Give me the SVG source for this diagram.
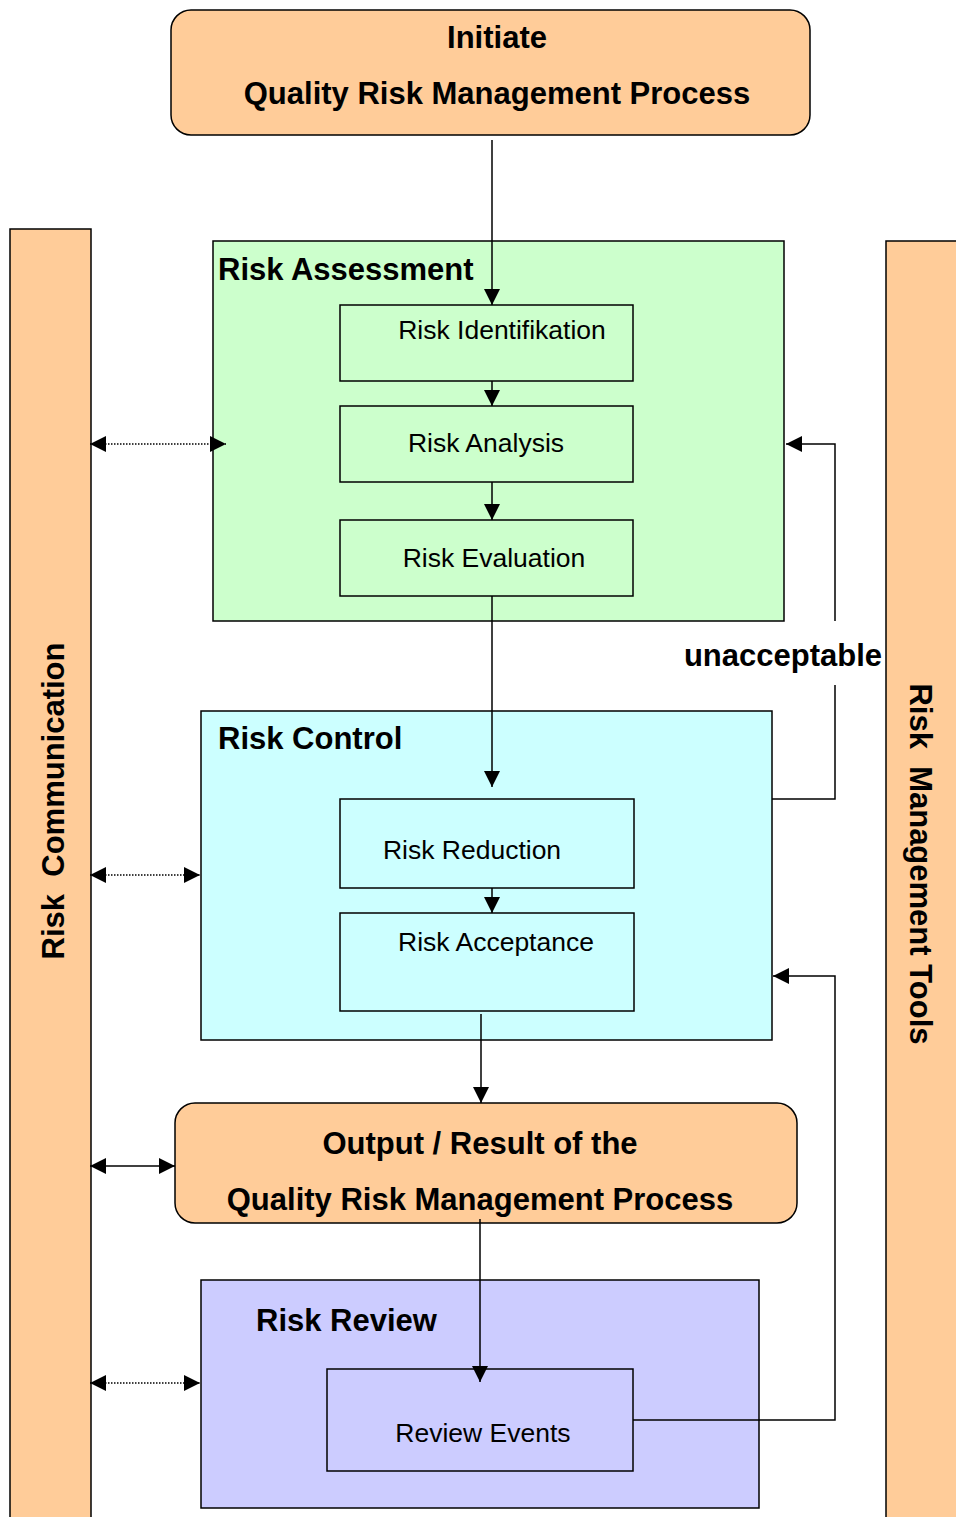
<svg xmlns="http://www.w3.org/2000/svg" width="956" height="1517" viewBox="0 0 956 1517">
  <style>
    .box { stroke: #000; stroke-width: 1.5; }
    .orange { fill: #FFCC99; }
    .green { fill: #CCFFCC; }
    .cyan { fill: #CCFFFF; }
    .purple { fill: #CCCCFF; }
    .b { font-family: "Liberation Sans", Arial, sans-serif; font-weight: bold; font-size: 31px; fill: #000; }
    .n { font-family: "Liberation Sans", Arial, sans-serif; font-size: 26.5px; fill: #000; }
    .mid { text-anchor: middle; }
    .line { fill: none; stroke: #000; stroke-width: 1.5; }
    .dot { fill: none; stroke: #000; stroke-width: 1.5; stroke-dasharray: 1.5,1.5; }
  </style>
  <defs>
    <marker id="ah" viewBox="0 0 16 16" refX="16" refY="8" markerWidth="16" markerHeight="16" orient="auto-start-reverse" markerUnits="userSpaceOnUse">
      <path d="M0,0 L16,8 L0,16 z" fill="#000"/>
    </marker>
  </defs>

  <rect width="956" height="1517" fill="#fff"/>

  <!-- side bars -->
  <g id="risk-communication">
    <rect class="box orange" x="10" y="229" width="81" height="1300"/>
    <text class="b mid" transform="translate(64,801) rotate(-90)" xml:space="preserve">Risk  Communication</text>
  </g>
  <g id="risk-management-tools">
    <rect class="box orange" x="886" y="241" width="80" height="1300"/>
    <text class="b mid" transform="translate(910,864) rotate(90)" xml:space="preserve">Risk  Management Tools</text>
  </g>

  <!-- start -->
  <g id="initiate">
    <rect class="box orange" x="171" y="10" width="639" height="125" rx="20"/>
    <text class="b mid" x="497" y="48">Initiate</text>
    <text class="b mid" x="497" y="104">Quality Risk Management Process</text>
  </g>

  <!-- assessment -->
  <g id="risk-assessment">
    <rect class="box green" x="213" y="241" width="571" height="380"/>
    <text class="b" x="218" y="280">Risk Assessment</text>
  </g>
  <g id="risk-identification">
    <rect class="box green" x="340" y="305" width="293" height="76"/>
    <text class="n mid" x="502" y="339">Risk Identifikation</text>
  </g>
  <g id="risk-analysis">
    <rect class="box green" x="340" y="406" width="293" height="76"/>
    <text class="n mid" x="486" y="452">Risk Analysis</text>
  </g>
  <g id="risk-evaluation">
    <rect class="box green" x="340" y="520" width="293" height="76"/>
    <text class="n mid" x="494" y="567">Risk Evaluation</text>
  </g>

  <!-- control -->
  <g id="risk-control">
    <rect class="box cyan" x="201" y="711" width="571" height="329"/>
    <text class="b" x="218" y="749">Risk Control</text>
  </g>
  <g id="risk-reduction">
    <rect class="box cyan" x="340" y="799" width="294" height="89"/>
    <text class="n mid" x="472" y="859">Risk Reduction</text>
  </g>
  <g id="risk-acceptance">
    <rect class="box cyan" x="340" y="913" width="294" height="98"/>
    <text class="n mid" x="496" y="951">Risk Acceptance</text>
  </g>

  <!-- output -->
  <g id="output">
    <rect class="box orange" x="175" y="1103" width="622" height="120" rx="20"/>
    <text class="b mid" x="480" y="1154">Output / Result of the</text>
    <text class="b mid" x="480" y="1210">Quality Risk Management Process</text>
  </g>

  <!-- review -->
  <g id="risk-review">
    <rect class="box purple" x="201" y="1280" width="558" height="228"/>
    <text class="b" x="256" y="1331">Risk Review</text>
  </g>
  <g id="review-events">
    <rect class="box purple" x="327" y="1369" width="306" height="102"/>
    <text class="n mid" x="483" y="1442">Review Events</text>
  </g>

  <!-- connectors -->
  <g id="connectors">
    <line class="line" x1="492" y1="140" x2="492" y2="305" marker-end="url(#ah)"/>
    <line class="line" x1="492" y1="381" x2="492" y2="406" marker-end="url(#ah)"/>
    <line class="line" x1="492" y1="482" x2="492" y2="520" marker-end="url(#ah)"/>
    <line class="line" x1="492" y1="596" x2="492" y2="787" marker-end="url(#ah)"/>
    <line class="line" x1="492" y1="888" x2="492" y2="913" marker-end="url(#ah)"/>
    <line class="line" x1="481" y1="1014" x2="481" y2="1103" marker-end="url(#ah)"/>
    <line class="line" x1="480" y1="1219" x2="480" y2="1382" marker-end="url(#ah)"/>

    <!-- unacceptable loop back to assessment -->
    <polyline class="line" points="772,799 835,799 835,685"/>
    <polyline class="line" points="835,621 835,444 786,444" marker-end="url(#ah)"/>
    <text class="b mid" x="783" y="666">unacceptable</text>

    <!-- review loop back to control -->
    <polyline class="line" points="633,1420 835,1420 835,976 773,976" marker-end="url(#ah)"/>

    <!-- communication links -->
    <line class="dot" x1="90" y1="444" x2="226" y2="444" marker-start="url(#ah)" marker-end="url(#ah)"/>
    <line class="dot" x1="90" y1="875" x2="200" y2="875" marker-start="url(#ah)" marker-end="url(#ah)"/>
    <line class="line" x1="90" y1="1166" x2="175" y2="1166" marker-start="url(#ah)" marker-end="url(#ah)"/>
    <line class="dot" x1="90" y1="1383" x2="200" y2="1383" marker-start="url(#ah)" marker-end="url(#ah)"/>
  </g>
</svg>
